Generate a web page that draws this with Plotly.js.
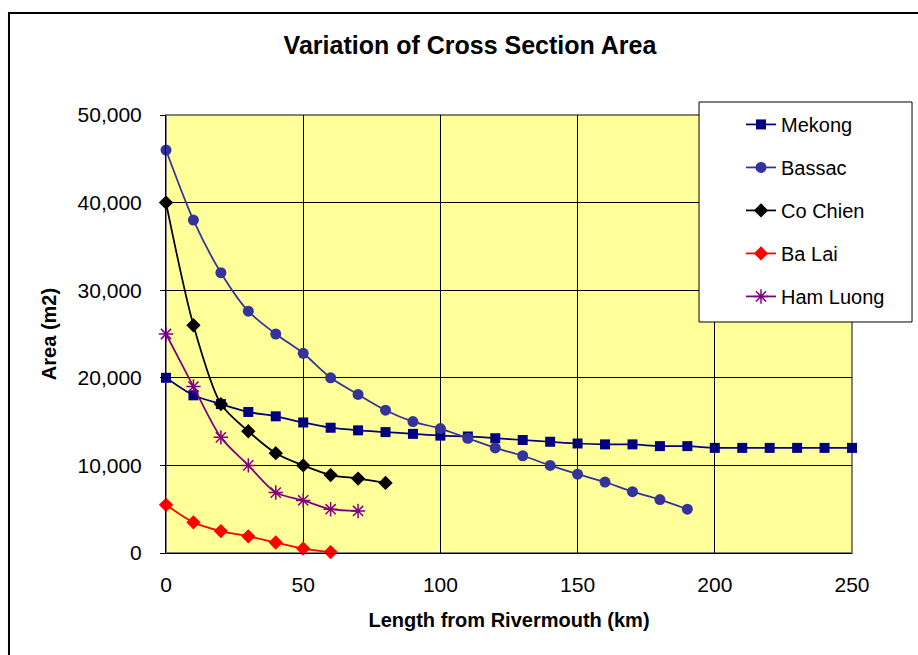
<!DOCTYPE html>
<html>
<head>
<meta charset="utf-8">
<script src="https://cdn.plot.ly/plotly-3.0.1.min.js"></script>
<style>
  html, body { margin: 0; padding: 0; background: #ffffff; }
  #chart { width: 918px; height: 655px; }
</style>
</head>
<body>
<div id="chart"></div>
<script>
// Distance from the river mouth (km) for each branch
var kmMekong   = [0,10,20,30,40,50,60,70,80,90,100,110,120,130,140,150,160,170,180,190,200,210,220,230,240,250];
var kmBassac   = [0,10,20,30,40,50,60,70,80,90,100,110,120,130,140,150,160,170,180,190];
var kmCoChien  = [0,10,20,30,40,50,60,70,80];
var kmBaLai    = [0,10,20,30,40,50,60];
var kmHamLuong = [0,10,20,30,40,50,60,70];

// Cross section area (m2)
var areaMekong   = [20000,18000,17000,16100,15600,14900,14300,14000,13800,13600,13400,13300,13100,12900,12700,12500,12400,12400,12200,12200,12000,12000,12000,12000,12000,12000];
var areaBassac   = [46000,38000,32000,27600,25000,22800,20000,18100,16300,15000,14200,13100,12000,11100,10000,9000,8100,7000,6100,5000];
var areaCoChien  = [40000,26000,17000,13900,11400,10000,8900,8500,8000];
var areaBaLai    = [5500,3500,2500,1900,1200,500,100];
var areaHamLuong = [25000,19000,13200,10000,6900,6000,5000,4800];

var xTicks = [0,50,100,150,200,250];
var yTicks = [0,10000,20000,30000,40000,50000];

var FONT = 'Liberation Sans, Arial, Helvetica, sans-serif';

function series(name, x, y, color, symbol, size, group) {
  return {
    type: 'scatter', mode: 'lines+markers', name: name, x: x, y: y,
    legendgroup: group, cliponaxis: false,
    line: { color: color, width: 1.75, shape: 'spline', smoothing: 0.8 },
    marker: { color: color, symbol: symbol, size: size,
              line: { color: color, width: symbol.indexOf('open') >= 0 ? 1.5 : 0 } },
    hoverinfo: 'x+y+name'
  };
}

var traces = [
  series('Mekong',    kmMekong,   areaMekong,   '#000080', 'square',        10, 'g1'),
  series('Bassac',    kmBassac,   areaBassac,   '#333399', 'circle',        11, 'g2'),
  series('Co Chien',  kmCoChien,  areaCoChien,  '#000000', 'diamond',       11, 'g3'),
  series('Ba Lai',    kmBaLai,    areaBaLai,    '#FF0000', 'diamond',       11, 'g4'),
  series('Ham Luong', kmHamLuong, areaHamLuong, '#800080', 'asterisk-open', 12, 'g5')
];

var layout = {
  width: 918, height: 655,
  margin: { l: 166, r: 66, t: 115, b: 102 },
  paper_bgcolor: '#ffffff',
  plot_bgcolor: '#FFFF99',
  font: { family: FONT, color: '#000000', size: 20 },
  title: {
    text: '<b>Variation of Cross Section Area</b>',
    font: { family: FONT, size: 25, color: '#000000' },
    xref: 'container', yref: 'container',
    x: 0.512, xanchor: 'center', y: 0.931, yanchor: 'middle'
  },
  xaxis: {
    range: [0, 250], tickvals: xTicks, ticktext: xTicks.map(String),
    showgrid: true, gridcolor: '#000000', gridwidth: 1,
    showline: true, linecolor: '#000000', linewidth: 1,
    zeroline: false, ticks: '', ticklabelstandoff: 13,
    tickfont: { family: FONT, size: 21 },
    title: { text: '<b>Length from Rivermouth (km)</b>', font: { family: FONT, size: 20 }, standoff: 17 },
    fixedrange: true
  },
  yaxis: {
    range: [0, 50000], tickvals: yTicks,
    ticktext: yTicks.map(function (v) { return v.toLocaleString('en-US'); }),
    showgrid: true, gridcolor: '#000000', gridwidth: 1,
    showline: true, linecolor: '#000000', linewidth: 1,
    zeroline: false, ticks: 'outside', ticklen: 5, tickcolor: '#000000',
    ticklabelstandoff: 14,
    tickfont: { family: FONT, size: 21 },
    title: { text: '<b>Area (m2)</b>', font: { family: FONT, size: 20 }, standoff: 15 },
    fixedrange: true
  },
  showlegend: true,
  legend: {
    x: 0.8382, xanchor: 'left', y: 1.023, yanchor: 'top',
    bgcolor: 'rgba(0,0,0,0)', borderwidth: 0,
    font: { family: FONT, size: 20, color: '#000000' },
    traceorder: 'grouped', tracegroupgap: 14
  },
  shapes: [
    // gray frame of the plotting area
    { type: 'rect', xref: 'paper', yref: 'paper', x0: 0, x1: 1, y0: 0, y1: 1,
      line: { color: '#808080', width: 2 }, layer: 'between' },
    // legend box
    { type: 'rect', xref: 'paper', yref: 'paper',
      x0: 0.7770, x1: 1.0875, y0: 0.5274, y1: 1.0297,
      fillcolor: '#ffffff', line: { color: '#000000', width: 1 }, layer: 'above' },
    // outer chart border
    { type: 'rect', xref: 'paper', yref: 'paper',
      x0: -0.2289, x1: 2, y0: -1, y1: 1.2329,
      line: { color: '#000000', width: 2 }, layer: 'above' }
  ]
};

Plotly.newPlot('chart', traces, layout, { displayModeBar: false, staticPlot: true });
</script>
</body>
</html>
